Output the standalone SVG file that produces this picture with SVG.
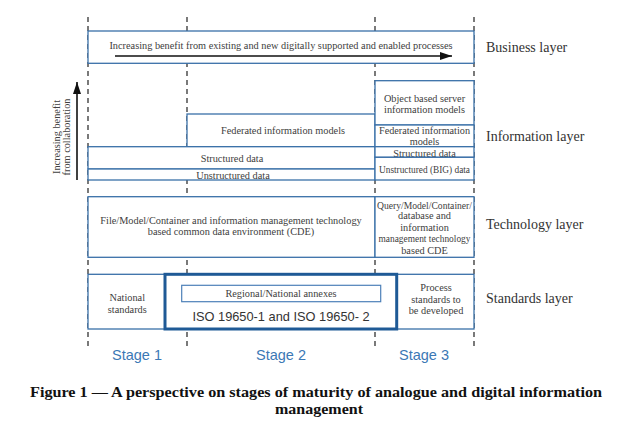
<svg xmlns="http://www.w3.org/2000/svg" width="640" height="432" viewBox="0 0 640 432">
<defs>
<style>
.box{fill:#fff;stroke:#3a70a8;stroke-width:1.3}
.t{font-family:"Liberation Serif",serif;font-size:10.3px;fill:#404040;text-anchor:middle}
.lay{font-family:"Liberation Serif",serif;font-size:14px;fill:#333}
.stg{font-family:"Liberation Sans",Arial,sans-serif;font-size:14.5px;fill:#3b78b5;text-anchor:middle}
.dash{stroke:#333;stroke-width:1.3;stroke-dasharray:5 4;fill:none}
.cap{font-family:"Liberation Serif",serif;font-weight:bold;font-size:14px;fill:#111;text-anchor:middle}
</style>
<marker id="ah" viewBox="0 0 12 8" refX="12" refY="4" markerWidth="12" markerHeight="8" markerUnits="userSpaceOnUse" orient="auto">
<path d="M0,0 L12,4 L0,8 Z" fill="#111"/>
</marker>
</defs>
<rect width="640" height="432" fill="#fff"/>
<g id="connectors">
<line class="dash" x1="88" y1="17" x2="88" y2="346"/>
<line class="dash" x1="187" y1="17" x2="187" y2="346"/>
<line class="dash" x1="375" y1="17" x2="375" y2="346"/>
<line class="dash" x1="474" y1="17" x2="474" y2="346"/>
</g>
<g id="business">
<rect class="box" x="88" y="31" width="386" height="32.3"/>
<text class="t" x="281" y="48.5">Increasing benefit from existing and new digitally supported and enabled processes</text>
</g>
<g id="benefit-arrow">
<line x1="115" y1="56" x2="452" y2="56" stroke="#111" stroke-width="1.6" marker-end="url(#ah)"/>
</g>
<g id="collab-arrow">
<line x1="77" y1="180" x2="77" y2="82" stroke="#111" stroke-width="1.6" marker-end="url(#ah)"/>
<text class="t" transform="translate(60,137) rotate(-90)">Increasing benefit</text>
<text class="t" transform="translate(70.3,137) rotate(-90)">from collaboration</text>
</g>
<g id="federated">
<rect class="box" x="187" y="114" width="188" height="32.7"/>
<text class="t" x="283" y="134.2">Federated information models</text>
</g>
<g id="structured">
<rect class="box" x="88" y="146.7" width="287" height="22.3"/>
<text class="t" x="232" y="161.8">Structured data</text>
</g>
<g id="unstructured">
<rect class="box" x="88" y="169" width="287" height="11"/>
<text class="t" x="233" y="178.5">Unstructured data</text>
</g>
<g id="object-server">
<rect class="box" x="375" y="80.7" width="99" height="44.3"/>
<text class="t" x="424.5" y="101.5">Object based server</text>
<text class="t" x="424.5" y="112.5">information models</text>
</g>
<g id="federated3">
<rect class="box" x="375" y="125" width="99" height="21.7"/>
<text class="t" x="424.5" y="133.5" textLength="91" lengthAdjust="spacingAndGlyphs">Federated information</text>
<text class="t" x="424.5" y="145.2">models</text>
</g>
<g id="structured3">
<rect class="box" x="375" y="146.7" width="99" height="10.6"/>
<text class="t" x="424.5" y="156.8">Structured data</text>
</g>
<g id="unstructured3">
<rect class="box" x="375" y="157.3" width="99" height="22.7"/>
<text class="t" x="424.5" y="172.8" textLength="91" lengthAdjust="spacingAndGlyphs">Unstructured (BIG) data</text>
</g>
<g id="cde">
<rect class="box" x="88" y="196.7" width="287" height="60.6"/>
<text class="t" x="231" y="223.5">File/Model/Container and information management technology</text>
<text class="t" x="231" y="235.2">based common data environment (CDE)</text>
</g>
<g id="cde3">
<rect class="box" x="375" y="196.7" width="99" height="60.6"/>
<text class="t" x="424.5" y="208.5" textLength="95" lengthAdjust="spacingAndGlyphs">Query/Model/Container/</text>
<text class="t" x="424.5" y="219.2">database and</text>
<text class="t" x="424.5" y="230.5">information</text>
<text class="t" x="424.5" y="242.2" textLength="92" lengthAdjust="spacingAndGlyphs">management technology</text>
<text class="t" x="424.5" y="253.5">based CDE</text>
</g>
<g id="national">
<rect class="box" x="88" y="274.3" width="77" height="54.7"/>
<text class="t" x="127.3" y="300.8">National</text>
<text class="t" x="127.3" y="312.5">standards</text>
</g>
<g id="process">
<rect class="box" x="396.7" y="274.3" width="77.3" height="54.7"/>
<text class="t" x="436" y="291.2">Process</text>
<text class="t" x="436" y="302.5">standards to</text>
<text class="t" x="436" y="314">be developed</text>
</g>
<g id="iso">
<rect x="165" y="274.3" width="231.7" height="54.7" fill="#fff" stroke="#1f5a96" stroke-width="3"/>
<text x="281" y="321.3" font-family="'Liberation Sans',Arial,sans-serif" font-size="12.8" fill="#333" text-anchor="middle">ISO 19650-1 and ISO 19650- 2</text>
</g>
<g id="regional">
<rect x="181.7" y="285.3" width="199" height="16.4" fill="#fff" stroke="#4d80b8" stroke-width="1.2"/>
<text class="t" x="281" y="297.2">Regional/National annexes</text>
</g>
<g id="labels">
<text class="lay" x="486" y="52">Business layer</text>
<text class="lay" x="486" y="141">Information layer</text>
<text class="lay" x="486" y="229">Technology layer</text>
<text class="lay" x="486" y="303">Standards layer</text>
<text class="stg" x="137" y="360">Stage 1</text>
<text class="stg" x="281" y="360">Stage 2</text>
<text class="stg" x="424" y="360">Stage 3</text>
</g>
<g id="caption">
<text class="cap" x="316" y="397" textLength="572" lengthAdjust="spacingAndGlyphs">Figure 1 — A perspective on stages of maturity of analogue and digital information</text>
<text class="cap" x="319" y="414" textLength="88" lengthAdjust="spacingAndGlyphs">management</text>
</g>
</svg>
